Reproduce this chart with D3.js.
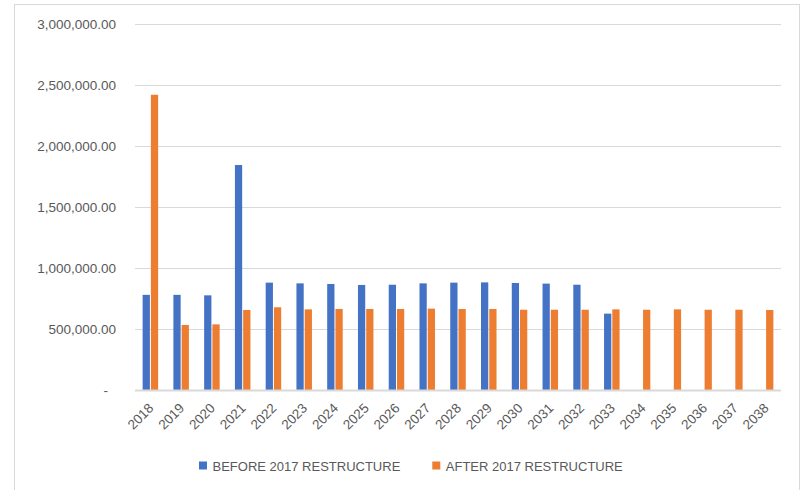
<!DOCTYPE html>
<html>
<head>
<meta charset="utf-8">
<script src="https://cdn.jsdelivr.net/npm/d3@7/dist/d3.min.js"></script>
<style>
  html, body { margin: 0; padding: 0; background: #fff; }
  svg { display: block; }
  text { font-family: "Liberation Sans", Arial, sans-serif; fill: #595959; }
</style>
</head>
<body>
<svg id="chart" width="802" height="490"></svg>
<script>
// Annual payments by year, before and after the 2017 restructure
const years = ["2018","2019","2020","2021","2022","2023","2024","2025","2026","2027","2028",
               "2029","2030","2031","2032","2033","2034","2035","2036","2037","2038"];
const beforeRestructure = [780000, 780000, 776000, 1844000, 880000, 874000, 869000, 861000, 863000,
                           874000, 880000, 882000, 877000, 872000, 863000, 626000,
                           null, null, null, null, null];
const afterRestructure = [2420000, 533000, 538000, 656000, 678000, 661000, 664000, 664000, 664000,
                          667000, 664000, 664000, 658000, 658000, 658000, 661000, 658000, 661000,
                          658000, 658000, 656000];
const seriesNames = ["BEFORE 2017 RESTRUCTURE", "AFTER 2017 RESTRUCTURE"];
const seriesColors = ["#4472C4", "#ED7D31"];
const yTicks = [0, 500000, 1000000, 1500000, 2000000, 2500000, 3000000];

const svg = d3.select("#chart");
const W = 802, H = 490;
const plot = { left: 135, right: 781, top: 24, bottom: 390 };

// chart area frame
svg.append("rect")
  .attr("x", 14.5).attr("y", 4.5)
  .attr("width", 785).attr("height", H)
  .attr("fill", "#fff").attr("stroke", "#D9D9D9").attr("stroke-width", 1);

const x = d3.scaleBand().domain(years).range([plot.left, plot.right]).padding(0);
const pairW = 15.5;
const xs = d3.scaleBand().domain(d3.range(seriesNames.length))
  .range([x.bandwidth() / 2 - pairW / 2, x.bandwidth() / 2 + pairW / 2])
  .paddingInner(0.12);
const y = d3.scaleLinear().domain([0, 3000000]).range([plot.bottom, plot.top]);

// gridlines
svg.append("g")
  .selectAll("line")
  .data(yTicks.filter(d => d > 0))
  .join("line")
  .attr("x1", plot.left).attr("x2", plot.right)
  .attr("y1", d => Math.round(y(d)) + 0.5).attr("y2", d => Math.round(y(d)) + 0.5)
  .attr("stroke", "#D9D9D9").attr("stroke-width", 1);

// y axis labels
const yAxis = svg.append("g")
  .attr("transform", `translate(${plot.left},0)`)
  .call(d3.axisLeft(y).tickValues(yTicks).tickSize(0).tickPadding(19)
    .tickFormat(d => d === 0 ? "-" : d3.format(",.2f")(d)));
yAxis.select(".domain").remove();
yAxis.selectAll("text")
  .attr("font-size", 13.5)
  .attr("font-family", "Liberation Sans, Arial, sans-serif")
  .attr("fill", "#595959")
  .attr("dx", d => d === 0 ? -8 : 0);

// bars
const data = [beforeRestructure, afterRestructure];
const groups = svg.append("g")
  .selectAll("g")
  .data(years)
  .join("g")
  .attr("transform", d => `translate(${x(d)},0)`);

groups.selectAll("rect")
  .data((yr, i) => data.map((s, k) => ({ k, v: s[i] })).filter(d => d.v != null))
  .join("rect")
  .attr("x", d => xs(d.k))
  .attr("width", xs.bandwidth())
  .attr("y", d => y(d.v))
  .attr("height", d => y(0) - y(d.v))
  .attr("fill", d => seriesColors[d.k]);

// category axis line
svg.append("line")
  .attr("x1", plot.left).attr("x2", plot.right)
  .attr("y1", plot.bottom + 0.5).attr("y2", plot.bottom + 0.5)
  .attr("stroke", "#D9D9D9").attr("stroke-width", 2);

// x axis labels, rotated
const xAxis = svg.append("g")
  .attr("transform", `translate(0,${plot.bottom})`)
  .call(d3.axisBottom(x).tickSize(0).tickPadding(0));
xAxis.select(".domain").remove();
xAxis.selectAll("text")
  .attr("font-size", 13.5)
  .attr("font-family", "Liberation Sans, Arial, sans-serif")
  .attr("fill", "#595959")
  .attr("text-anchor", "end")
  .attr("dy", null)
  .attr("y", null)
  .attr("transform", "translate(4,19) rotate(-45)");

// legend
const legendX = [199, 432.3];
const legend = svg.append("g");
seriesNames.forEach((name, k) => {
  legend.append("rect")
    .attr("x", legendX[k]).attr("y", 461.5)
    .attr("width", 8).attr("height", 8)
    .attr("fill", seriesColors[k]);
  legend.append("text")
    .attr("x", legendX[k] + 13.5).attr("y", 470.7)
    .attr("font-size", 13)
    .text(name);
});
</script>
</body>
</html>
